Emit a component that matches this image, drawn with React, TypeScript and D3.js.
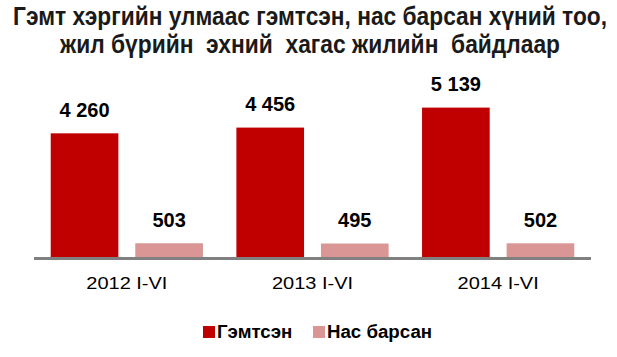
import React from "react";
import * as d3 from "d3";

const categories = ["2012 I-VI", "2013 I-VI", "2014 I-VI"];
const seriesNames = ["Гэмтсэн", "Нас барсан"];
const injured = [4260, 4456, 5139];
const deaths = [503, 495, 502];
const valueLabels = [["4 260", "4 456", "5 139"], ["503", "495", "502"]];
const titleLines = [
  "Гэмт хэргийн улмаас гэмтсэн, нас барсан хүний тоо,",
  "жил бүрийн  эхний  хагас жилийн  байдлаар",
];

const W = 617, H = 357;
const colors = ["#C00000", "#D99694"];
const font = "Liberation Sans, Arial, sans-serif";

export default function App() {
  const left = 34, right = 591, axisY = 258;
  const x0 = d3.scaleBand<string>().domain(categories).range([left, right]).paddingInner(0.18).paddingOuter(0.09);
  const x1 = d3.scaleBand<number>().domain([0, 1]).range([0, x0.bandwidth()]).paddingInner(0.2);
  const y = d3.scaleLinear().domain([0, 6000]).range([axisY, axisY - 175.6]);
  const series = [injured, deaths];
  const titleWidths = [594, 500];
  const legendX = [203, 313];
  return (
    <svg width={W} height={H} style={{ position: "absolute", left: 0, top: 0, background: "#fff" }} fontFamily={font}>
      {titleLines.map((t, i) => (
        <text key={i} transform={`translate(310,${25 + i * 28}) scale(1,1.13)`} textAnchor="middle" fontWeight="bold" fontSize={22}
          textLength={titleWidths[i]} lengthAdjust="spacingAndGlyphs" style={{ whiteSpace: "pre" }} fill="#1a1a1a">{t}</text>
      ))}
      {series.map((vals, s) =>
        vals.map((v, i) => {
          const bx = (x0(categories[i]) as number) + (x1(s) as number);
          return (
            <g key={`${s}-${i}`}>
              <rect x={bx} y={y(v)} width={x1.bandwidth()} height={axisY - y(v)} fill={colors[s]} />
              <text x={bx + x1.bandwidth() / 2} y={y(v) - 16.6} textAnchor="middle" fontWeight="bold" fontSize={20} fill="#000">{valueLabels[s][i]}</text>
            </g>
          );
        })
      )}
      <line x1={left} x2={right} y1={axisY + 0.5} y2={axisY + 0.5} stroke="#808080" strokeWidth={3} />
      {categories.map((c) => (
        <text key={c} transform={`translate(${(x0(c) as number) + x0.bandwidth() / 2},289) scale(1,0.85)`} textAnchor="middle" fontSize={20}
          fill="#000">{c}</text>
      ))}
      <g>
        {seriesNames.map((n, i) => (
          <g key={n}>
            <rect x={legendX[i]} y={326} width={12} height={12} fill={colors[i]} />
            <text transform={`translate(${legendX[i] + 14},338) scale(1,0.94)`} fontWeight="bold" fontSize={18.7}
              fill="#000">{n}</text>
          </g>
        ))}
      </g>
    </svg>
  );
}
